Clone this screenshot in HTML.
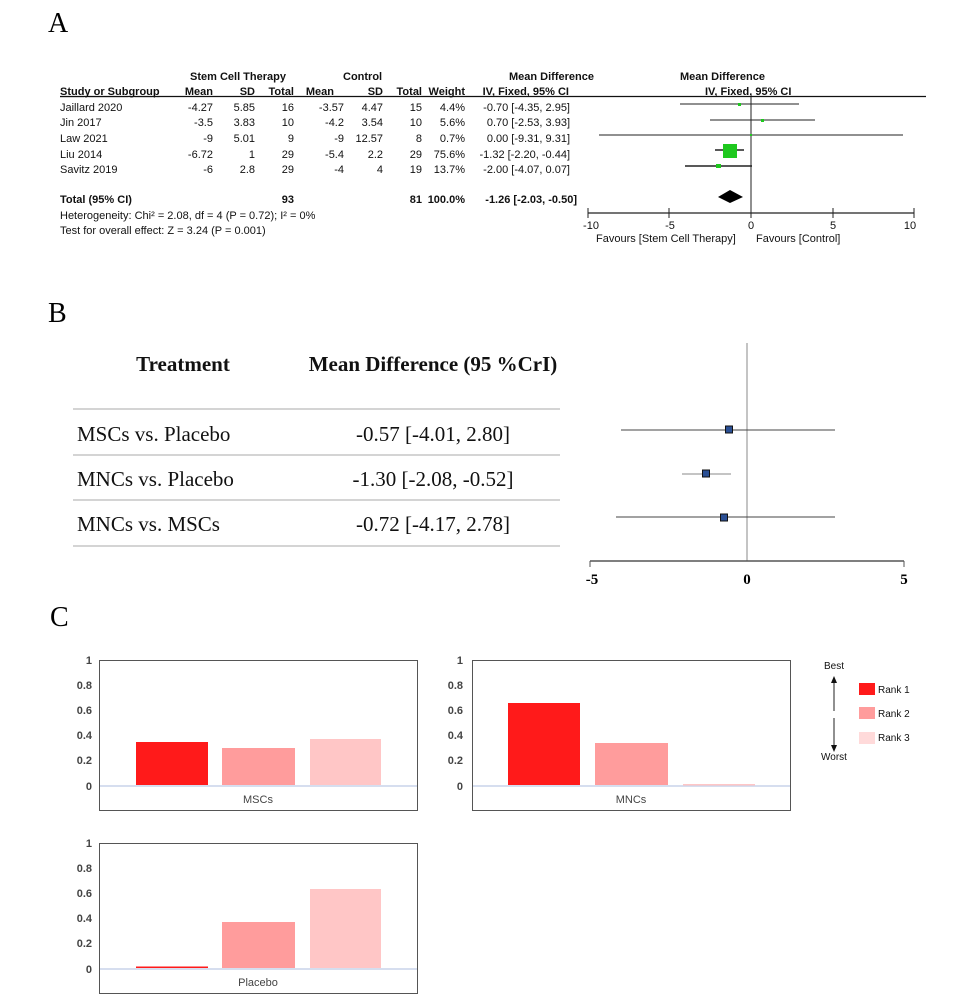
<!DOCTYPE html>
<html><head><meta charset="utf-8"><style>
body{margin:0;background:#fff}
svg{display:block}
.a{font-family:"Liberation Sans",Arial,sans-serif;font-size:11px;fill:#111}
.b{font-weight:bold}
.s{font-family:"Liberation Serif",serif;font-size:21px;fill:#111}
.c{font-family:"Liberation Sans",sans-serif;font-size:11px;fill:#444}
</style></head><body>
<svg width="962" height="1002" xmlns="http://www.w3.org/2000/svg">
<rect width="962" height="1002" fill="#fff"/>
<text x="48" y="32" font-family="Liberation Serif,serif" font-size="28">A</text>
<text x="48" y="322" font-family="Liberation Serif,serif" font-size="28">B</text>
<text x="50" y="626" font-family="Liberation Serif,serif" font-size="28">C</text>

<!-- A table -->
<g class="a">
<text class="b" x="190" y="80">Stem Cell Therapy</text>
<text class="b" x="343" y="80">Control</text>
<text class="b" x="509" y="80">Mean Difference</text>
<text class="b" x="680" y="80">Mean Difference</text>
<text class="b" x="60" y="95" text-decoration="underline">Study or Subgroup</text>
<g text-anchor="end" class="b">
<text x="213" y="95">Mean</text><text x="255" y="95">SD</text><text x="294" y="95">Total</text>
<text x="334" y="95">Mean</text><text x="383" y="95">SD</text><text x="422" y="95">Total</text>
<text x="465" y="95">Weight</text><text x="569" y="95">IV, Fixed, 95% CI</text>
</g>
<text class="b" x="705" y="95">IV, Fixed, 95% CI</text>
<text x="60" y="111">Jaillard 2020</text>
<text x="60" y="126">Jin 2017</text>
<text x="60" y="142">Law 2021</text>
<text x="60" y="158">Liu 2014</text>
<text x="60" y="173">Savitz 2019</text>
<text class="b" x="60" y="203">Total (95% CI)</text>
<text x="60" y="219">Heterogeneity: Chi² = 2.08, df = 4 (P = 0.72); I² = 0%</text>
<text x="60" y="234">Test for overall effect: Z = 3.24 (P = 0.001)</text>
<g text-anchor="end">
<text x="213" y="111">-4.27</text><text x="255" y="111">5.85</text><text x="294" y="111">16</text><text x="344" y="111">-3.57</text><text x="383" y="111">4.47</text><text x="422" y="111">15</text><text x="465" y="111">4.4%</text><text x="570" y="111">-0.70 [-4.35, 2.95]</text>
<text x="213" y="126">-3.5</text><text x="255" y="126">3.83</text><text x="294" y="126">10</text><text x="344" y="126">-4.2</text><text x="383" y="126">3.54</text><text x="422" y="126">10</text><text x="465" y="126">5.6%</text><text x="570" y="126">0.70 [-2.53, 3.93]</text>
<text x="213" y="142">-9</text><text x="255" y="142">5.01</text><text x="294" y="142">9</text><text x="344" y="142">-9</text><text x="383" y="142">12.57</text><text x="422" y="142">8</text><text x="465" y="142">0.7%</text><text x="570" y="142">0.00 [-9.31, 9.31]</text>
<text x="213" y="158">-6.72</text><text x="255" y="158">1</text><text x="294" y="158">29</text><text x="344" y="158">-5.4</text><text x="383" y="158">2.2</text><text x="422" y="158">29</text><text x="465" y="158">75.6%</text><text x="570" y="158">-1.32 [-2.20, -0.44]</text>
<text x="213" y="173">-6</text><text x="255" y="173">2.8</text><text x="294" y="173">29</text><text x="344" y="173">-4</text><text x="383" y="173">4</text><text x="422" y="173">19</text><text x="465" y="173">13.7%</text><text x="570" y="173">-2.00 [-4.07, 0.07]</text>
<text class="b" x="294" y="203">93</text><text class="b" x="422" y="203">81</text><text class="b" x="465" y="203">100.0%</text><text class="b" x="577" y="203">-1.26 [-2.03, -0.50]</text>
</g>
</g>
<line x1="60" y1="96.5" x2="926" y2="96.5" stroke="#111" stroke-width="1.2"/>
<g stroke="#222" stroke-width="1">
<line x1="751" y1="97" x2="751" y2="213"/>
<line x1="680" y1="104" x2="799" y2="104"/>
<line x1="710" y1="120" x2="815" y2="120"/>
<line x1="599" y1="135" x2="903" y2="135"/>
<line x1="715" y1="150" x2="744" y2="150" stroke-width="1.5"/>
<line x1="685" y1="166" x2="752" y2="166" stroke-width="1.5"/>
<line x1="588" y1="213" x2="914" y2="213" stroke-width="1.3"/>
<line x1="588" y1="208" x2="588" y2="218"/><line x1="669" y1="208" x2="669" y2="218"/><line x1="751" y1="208" x2="751" y2="218"/><line x1="833" y1="208" x2="833" y2="218"/><line x1="914" y1="208" x2="914" y2="218"/>
</g>
<g fill="#1ec81e">
<rect x="738" y="103" width="3" height="3"/><rect x="761" y="119" width="3" height="3"/><rect x="750" y="134" width="2" height="2"/>
<rect x="723" y="144" width="14" height="14"/><rect x="716" y="164" width="5" height="4"/>
</g>
<polygon points="718,197 730,190 743,197 730,203" fill="#000"/>
<g class="a" text-anchor="middle">
<text x="591" y="229">-10</text><text x="670" y="229">-5</text><text x="751" y="229">0</text><text x="833" y="229">5</text><text x="910" y="229">10</text>
</g>
<text class="a" x="596" y="242">Favours [Stem Cell Therapy]</text>
<text class="a" x="756" y="242">Favours [Control]</text>

<!-- B -->
<text class="s b" x="183" y="371" text-anchor="middle" font-weight="bold">Treatment</text>
<text class="s" x="433" y="371" text-anchor="middle" font-weight="bold">Mean Difference (95 %CrI)</text>
<g stroke="#bbb" stroke-width="1.3">
<line x1="73" y1="409" x2="560" y2="409"/><line x1="73" y1="455" x2="560" y2="455"/><line x1="73" y1="500" x2="560" y2="500"/><line x1="73" y1="546" x2="560" y2="546"/>
</g>
<text class="s" x="77" y="441">MSCs vs. Placebo</text>
<text class="s" x="77" y="486">MNCs vs. Placebo</text>
<text class="s" x="77" y="531">MNCs vs. MSCs</text>
<text class="s" x="433" y="441" text-anchor="middle">-0.57 [-4.01, 2.80]</text>
<text class="s" x="433" y="486" text-anchor="middle">-1.30 [-2.08, -0.52]</text>
<text class="s" x="433" y="531" text-anchor="middle">-0.72 [-4.17, 2.78]</text>
<line x1="747" y1="343" x2="747" y2="561" stroke="#888"/>
<line x1="590" y1="561" x2="904" y2="561" stroke="#555" stroke-width="1.5"/>
<line x1="590" y1="561" x2="590" y2="567" stroke="#555"/><line x1="904" y1="561" x2="904" y2="567" stroke="#555"/>
<g stroke="#444" stroke-width="1">
<line x1="621" y1="430" x2="835" y2="430"/><line x1="682" y1="474" x2="731" y2="474" stroke="#888"/><line x1="616" y1="517" x2="835" y2="517"/>
</g>
<g fill="#2a4f94" stroke="#111" stroke-width="1">
<rect x="725.5" y="426" width="7" height="7"/><rect x="702.5" y="470" width="7" height="7"/><rect x="720.5" y="514" width="7" height="7"/>
</g>
<g font-family="Liberation Serif,serif" font-size="15" font-weight="bold" text-anchor="middle">
<text x="592" y="584">-5</text><text x="747" y="584">0</text><text x="904" y="584">5</text>
</g>

<!-- C panels -->
<g id="p1">
<rect x="99.5" y="660.5" width="318" height="150" fill="none" stroke="#555"/>
<line x1="100" y1="786" x2="417" y2="786" stroke="#c8d4ea" stroke-width="1.5"/>
<rect x="136" y="742" width="72" height="43" fill="#ff1a1a"/>
<rect x="222" y="748" width="73" height="37" fill="#ff9c9c"/>
<rect x="310" y="739" width="71" height="46" fill="#ffc6c6"/>
<text class="c" x="258" y="803" text-anchor="middle">MSCs</text>
<g class="c b" text-anchor="end"><text x="92" y="664">1</text><text x="92" y="689">0.8</text><text x="92" y="714">0.6</text><text x="92" y="739">0.4</text><text x="92" y="764">0.2</text><text x="92" y="790">0</text></g>
</g>
<g>
<rect x="472.5" y="660.5" width="318" height="150" fill="none" stroke="#555"/>
<line x1="473" y1="786" x2="790" y2="786" stroke="#c8d4ea" stroke-width="1.5"/>
<rect x="508" y="703" width="72" height="82" fill="#ff1a1a"/>
<rect x="595" y="743" width="73" height="42" fill="#ff9c9c"/>
<rect x="683" y="784" width="72" height="1.5" fill="#ffc6c6"/>
<text class="c" x="631" y="803" text-anchor="middle">MNCs</text>
<g class="c b" text-anchor="end"><text x="463" y="664">1</text><text x="463" y="689">0.8</text><text x="463" y="714">0.6</text><text x="463" y="739">0.4</text><text x="463" y="764">0.2</text><text x="463" y="790">0</text></g>
</g>
<g>
<rect x="99.5" y="843.5" width="318" height="150" fill="none" stroke="#555"/>
<line x1="100" y1="969" x2="417" y2="969" stroke="#c8d4ea" stroke-width="1.5"/>
<rect x="136" y="966.5" width="72" height="1.5" fill="#ff1a1a"/>
<rect x="222" y="922" width="73" height="46" fill="#ff9c9c"/>
<rect x="310" y="889" width="71" height="79" fill="#ffc6c6"/>
<text class="c" x="258" y="986" text-anchor="middle">Placebo</text>
<g class="c b" text-anchor="end"><text x="92" y="847">1</text><text x="92" y="872">0.8</text><text x="92" y="897">0.6</text><text x="92" y="922">0.4</text><text x="92" y="947">0.2</text><text x="92" y="973">0</text></g>
</g>
<!-- legend -->
<g font-family="Liberation Sans,sans-serif" font-size="10" fill="#111">
<text x="834" y="669" text-anchor="middle">Best</text>
<text x="834" y="760" text-anchor="middle">Worst</text>
<text x="878" y="693">Rank 1</text><text x="878" y="717">Rank 2</text><text x="878" y="741">Rank 3</text>
</g>
<line x1="834" y1="678" x2="834" y2="711" stroke="#222"/>
<line x1="834" y1="718" x2="834" y2="750" stroke="#222"/>
<polygon points="834,676 831,683 837,683" fill="#111"/>
<polygon points="834,752 831,745 837,745" fill="#111"/>
<rect x="859" y="683" width="16" height="12" fill="#ff1a1a"/>
<rect x="859" y="707" width="16" height="12" fill="#ff9c9c"/>
<rect x="859" y="732" width="16" height="12" fill="#ffdada"/>
</svg>
</body></html>
